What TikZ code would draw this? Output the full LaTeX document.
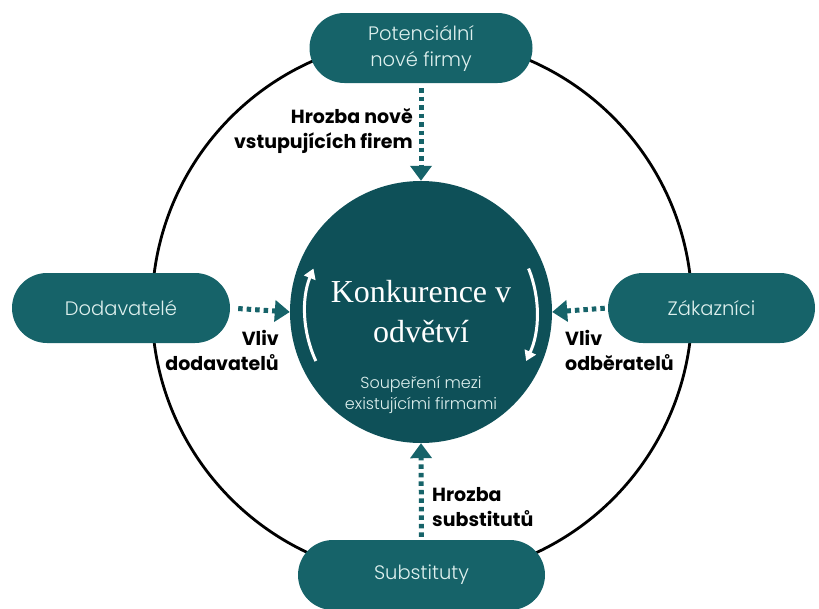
\documentclass[tikz,border=0pt]{standalone}
\usepackage{fontspec}
\setmainfont{Poppins}
\newfontfamily\poplight{Poppins Light}
\newfontfamily\titleserif{Liberation Serif}
\usetikzlibrary{arrows.meta}
\definecolor{boxteal}{RGB}{22,99,105}
\definecolor{coreteal}{RGB}{14,80,88}
\definecolor{boxtext}{RGB}{222,240,238}
\begin{document}
\begin{tikzpicture}[x=1pt,y=-1pt,
  force/.style={fill=boxteal, rounded corners=35pt, minimum height=70pt,
    text=boxtext, font=\poplight\fontsize{19.5}{26}\selectfont, align=center, inner sep=0pt},
  flow/.style={draw=boxteal, line width=5pt, dash pattern=on 4.5pt off 4pt,
    -{Triangle[width=21pt,length=15pt]}},
  lbl/.style={font=\bfseries\fontsize{19}{25}\selectfont, inner sep=0pt},
  turn/.style={draw=white, line width=3pt, -{Triangle[width=12pt,length=10pt]}}]
\useasboundingbox (0,0) rectangle (819,608);

% outer ring linking the four forces
\node[circle, draw=black, line width=2.8pt, minimum size=540pt, inner sep=0pt] (ring) at (422,308) {};

% the four surrounding forces
\node[force, minimum width=223pt] (entrants) at (421,48) {Potenciální\\nové firmy};
\node[force, minimum width=218pt] (suppliers) at (121,308) {Dodavatelé};
\node[force, minimum width=207pt] (buyers) at (711.5,308) {Zákazníci};
\node[force, minimum width=247pt] (substitutes) at (421.5,575) {Substituty};

% central rivalry
\node[circle, fill=coreteal, minimum size=262pt, inner sep=0pt] (core) at (421,312) {};
\node[text=white, font=\titleserif\fontsize{32}{40}\selectfont, align=center, inner sep=0pt]
  (title) at (421,312) {Konkurence v\\odvětví};
\node[text=boxtext, font=\poplight\fontsize{16}{21}\selectfont, align=center, inner sep=0pt]
  (subtitle) at (421,395) {Soupeření mezi\\existujícími firmami};

% rotation arrows inside the core
\draw[turn] ([shift={(205:116pt)}]core.center) arc[start angle=205, end angle=158, radius=116pt];
\draw[turn] ([shift={(22:116pt)}]core.center) arc[start angle=22, end angle=-25, radius=116pt];

% influence arrows
\draw[flow, shorten <=5pt] (entrants.south) -- (core.north);
\draw[flow, shorten <=8pt] (suppliers.east) -- (core.west);
\draw[flow, shorten <=3pt] (buyers.west) -- (core.east);
\draw[flow, shorten <=3pt] (substitutes.north) -- (core.south);

% arrow labels
\node[lbl, align=right, anchor=east] (lentrants) at (413,131) {Hrozba nově\\vstupujících firem};
\node[lbl, align=right, anchor=east] (lsuppliers) at (279,350) {Vliv\\dodavatelů};
\node[lbl, align=left, anchor=west] (lbuyers) at (565,350) {Vliv\\odběratelů};
\node[lbl, align=left, anchor=west] (lsubstitutes) at (432,507) {Hrozba\\substitutů};
\end{tikzpicture}
\end{document}
